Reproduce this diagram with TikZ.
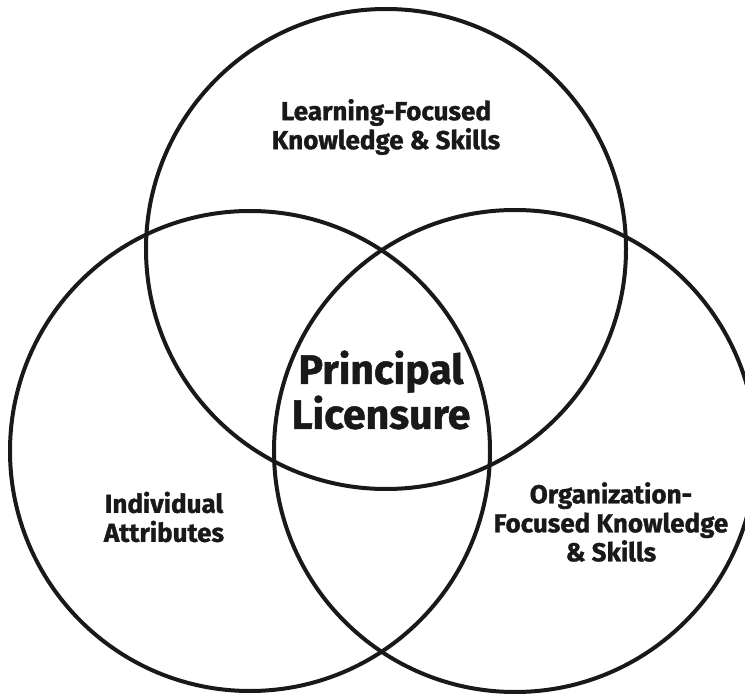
\documentclass[tikz,border=0pt]{standalone}
\usepackage{fontspec}
\setmainfont{Fira Sans}[Ligatures=NoCommon,BoldFeatures={FakeBold=1.2}]
\usepackage{tikz}

\begin{document}
\begin{tikzpicture}[x=1pt,y=-1pt,
   ring/.style={line width=4pt,draw=black!90},
   lbl/.style={align=center,font=\bfseries\fontsize{26}{29}\selectfont,text=black!90,inner sep=0pt},
   big/.style={align=center,font=\bfseries\fontsize{41}{45}\selectfont,text=black!90,inner sep=0pt}]
\useasboundingbox (0,0) rectangle (745,695);
\clip (0,0) rectangle (745,695);
% centres of the three sets
\coordinate (learn) at (386,249);
\coordinate (indiv) at (250,451);
\coordinate (organ) at (515,451);
\draw[ring] (learn) circle (240);
\draw[ring] (indiv) circle (240);
\draw[ring] (organ) circle (241);
% labels
\node[lbl] (tlearn) at (386,127) {Learning-Focused\\Knowledge \& Skills};
\node[lbl] (tindiv) at (164,517) {Individual\\Attributes};
\node[lbl] (torgan) at (611,522) {Organization-\\Focused Knowledge\\\& Skills};
\node[big] (tcore) at (381,390) {Principal\\Licensure};
\end{tikzpicture}
\end{document}
